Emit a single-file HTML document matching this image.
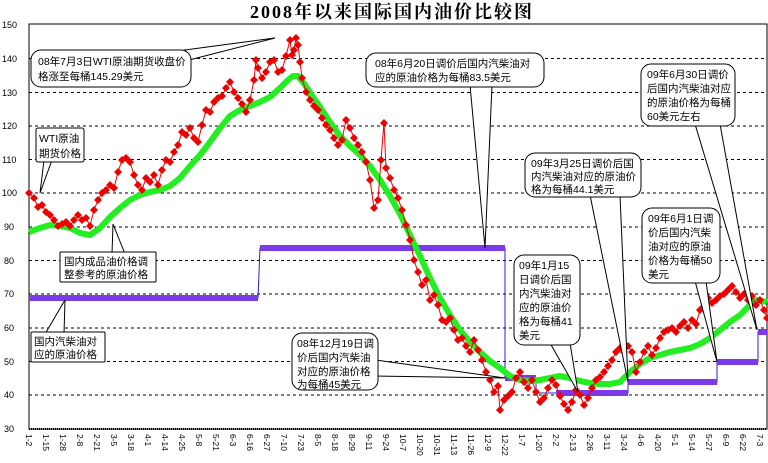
<!DOCTYPE html>
<html><head><meta charset="utf-8"><style>
html,body{margin:0;padding:0;background:#fff;width:768px;height:463px;overflow:hidden}
svg text{font-family:"Liberation Sans","Noto Sans CJK SC",sans-serif}
</style></head><body>
<svg width="768" height="463" viewBox="0 0 768 463" xmlns="http://www.w3.org/2000/svg">
<defs>
<marker id="d" markerWidth="8" markerHeight="8" refX="4" refY="4" markerUnits="userSpaceOnUse"><path d="M4 0L8 4L4 8L0 4Z" fill="#e00"/></marker>
</defs>
<text x="392" y="18" text-anchor="middle" font-size="18" font-weight="bold" letter-spacing="2" style="font-family:'Liberation Serif','Noto Serif CJK SC',serif">2008年以来国际国内油价比较图</text>
<rect x="29" y="24" width="738" height="405" fill="none" stroke="#000" stroke-width="1"/>
<line x1="29" y1="429" x2="767" y2="429" stroke="#000" stroke-width="2" stroke-dasharray="1 1"/>
<g stroke="#000" stroke-dasharray="3 3" stroke-width="1">
<line x1="29" y1="58.5" x2="767" y2="58.5"/><line x1="29" y1="92.5" x2="767" y2="92.5"/>
<line x1="29" y1="126" x2="767" y2="126"/><line x1="29" y1="159.5" x2="767" y2="159.5"/>
<line x1="29" y1="193" x2="767" y2="193"/><line x1="29" y1="227" x2="767" y2="227"/>
<line x1="29" y1="260.5" x2="767" y2="260.5"/><line x1="29" y1="294" x2="767" y2="294"/>
<line x1="29" y1="328" x2="767" y2="328"/><line x1="29" y1="361.5" x2="767" y2="361.5"/>
<line x1="29" y1="395" x2="767" y2="395"/>
</g>
<g font-size="9" fill="#000">
<text x="2" y="28">150</text><text x="2" y="62">140</text><text x="2" y="96">130</text><text x="2" y="129">120</text><text x="2" y="163">110</text><text x="2" y="196">100</text><text x="4" y="230">90</text><text x="4" y="264">80</text><text x="4" y="297">70</text><text x="4" y="331">60</text><text x="4" y="365">50</text><text x="4" y="398">40</text><text x="4" y="432">30</text>
</g>
<g font-size="8.5" fill="#000">
<text transform="translate(26,434) rotate(90)">1-2</text><text transform="translate(43,434) rotate(90)">1-15</text><text transform="translate(60,434) rotate(90)">1-28</text><text transform="translate(77,434) rotate(90)">2-8</text><text transform="translate(94,434) rotate(90)">2-21</text><text transform="translate(111,434) rotate(90)">3-5</text><text transform="translate(128,434) rotate(90)">3-18</text><text transform="translate(145,434) rotate(90)">4-1</text><text transform="translate(162,434) rotate(90)">4-14</text><text transform="translate(179,434) rotate(90)">4-25</text><text transform="translate(196,434) rotate(90)">5-8</text><text transform="translate(213,434) rotate(90)">5-21</text><text transform="translate(230,434) rotate(90)">6-3</text><text transform="translate(247,434) rotate(90)">6-16</text><text transform="translate(264,434) rotate(90)">6-27</text><text transform="translate(281,434) rotate(90)">7-10</text><text transform="translate(298,434) rotate(90)">7-23</text><text transform="translate(315,434) rotate(90)">8-5</text><text transform="translate(332,434) rotate(90)">8-18</text><text transform="translate(349,434) rotate(90)">8-29</text><text transform="translate(366,434) rotate(90)">9-11</text><text transform="translate(383,434) rotate(90)">9-24</text><text transform="translate(400,434) rotate(90)">10-7</text><text transform="translate(417,434) rotate(90)">10-20</text><text transform="translate(434,434) rotate(90)">10-31</text><text transform="translate(451,434) rotate(90)">11-13</text><text transform="translate(468,434) rotate(90)">11-26</text><text transform="translate(485,434) rotate(90)">12-9</text><text transform="translate(502,434) rotate(90)">12-22</text><text transform="translate(519,434) rotate(90)">1-7</text><text transform="translate(536,434) rotate(90)">1-20</text><text transform="translate(553,434) rotate(90)">2-2</text><text transform="translate(570,434) rotate(90)">2-13</text><text transform="translate(587,434) rotate(90)">2-26</text><text transform="translate(604,434) rotate(90)">3-11</text><text transform="translate(621,434) rotate(90)">3-24</text><text transform="translate(638,434) rotate(90)">4-6</text><text transform="translate(655,434) rotate(90)">4-20</text><text transform="translate(672,434) rotate(90)">5-1</text><text transform="translate(689,434) rotate(90)">5-14</text><text transform="translate(706,434) rotate(90)">5-27</text><text transform="translate(723,434) rotate(90)">6-9</text><text transform="translate(740,434) rotate(90)">6-22</text><text transform="translate(757,434) rotate(90)">7-3</text>
</g>
<path d="M29 298H258L260 248H505V378H536V393H628V382H717V362H758V332H767" fill="none" stroke="#2020e0" stroke-width="1"/>
<g stroke="#7a3ae8" stroke-width="6">
<line x1="29" y1="298" x2="258" y2="298"/><line x1="260" y1="248" x2="505" y2="248"/><line x1="505" y1="378" x2="536" y2="378"/><line x1="556" y1="393" x2="628" y2="393"/><line x1="628" y1="382" x2="717" y2="382"/><line x1="717" y1="362" x2="758" y2="362"/><line x1="758" y1="332" x2="767" y2="332"/>
</g>
<polyline fill="none" stroke="#2e2" stroke-width="6" stroke-linejoin="round" points="29,232 40,228 50,225 60,226 70,228 80,233 90,235 100,228 110,217 120,208 130,200 140,195 150,192 160,190 170,186 180,178 190,166 200,155 210,142 220,128 230,116 240,110 250,106 260,102 270,97 280,88 288,80 293,76 298,76 305,85 313,97 320,107 330,122 340,136 350,146 360,155 370,166 380,180 390,196 400,214 410,235 420,256 430,278 440,298 450,315 460,330 470,342 480,352 490,361 500,368 510,376 520,380 530,381 540,380 550,378 560,376 570,378 580,381 590,383 600,384 610,384 620,382 630,372 640,364 650,358 660,355 670,352 680,350 690,348 700,344 710,338 720,330 730,322 740,315 750,305 757,300 767,302"/>
<polyline fill="none" stroke="#e00" stroke-width="1" marker-start="url(#d)" marker-mid="url(#d)" marker-end="url(#d)" points="29,193 34,198 38,207 42,205 46,212 50,215 54,220 58,226 62,224 66,222 70,226 74,220 78,215 82,220 86,218 90,226 94,210 98,200 102,193 106,190 110,185 114,188 118,172 122,160 126,158 130,162 134,175 138,185 142,190 146,178 150,182 154,175 158,185 162,170 166,160 170,162 174,152 178,145 182,132 186,135 190,128 194,138 198,142 202,125 206,110 210,112 214,102 218,98 222,96 226,88 230,82 234,92 238,98 242,104 246,112 250,100 254,80 256,60 258,68 262,78 266,72 270,62 274,60 278,72 282,70 286,56 290,40 292,55 294,50 296,38 298,45 300,62 302,78 306,92 310,100 314,106 318,110 322,118 326,125 330,130 334,138 338,145 342,140 346,120 350,128 354,138 358,145 362,152 366,162 370,180 374,208 378,200 381,160 384,123 386,168 390,178 394,190 398,198 402,210 406,225 410,240 414,260 418,272 422,285 426,280 430,300 434,295 438,305 442,320 446,322 450,318 454,330 458,340 462,338 466,346 470,352 474,340 478,350 482,360 486,372 490,380 494,392 498,386 500,410 504,400 508,396 512,392 516,378 520,372 524,382 528,388 532,380 536,392 540,402 544,398 548,388 552,380 556,385 560,396 564,404 568,410 572,402 576,390 580,395 584,405 588,398 592,388 596,380 600,377 604,372 608,366 612,360 616,352 620,348 624,352 628,346 632,352 636,372 640,362 644,352 648,346 652,355 656,348 660,338 664,332 668,330 672,328 676,332 680,326 684,322 688,328 692,320 696,324 700,310 704,306 708,298 712,303 716,300 720,296 724,294 728,290 732,286 736,292 740,298 744,294 748,300 752,296 756,305 760,300 764,310 767,318"/>
<g fill="#fff" stroke="#000" stroke-width="1">
<path d="M140 56L275 38L150 70Z"/><rect x="31" y="50" width="160" height="37" rx="10"/>
<path d="M44 160L40 193L52 160Z"/><rect x="36" y="128" width="48" height="34" rx="2"/>
<path d="M470 85L485 248L492 85Z"/><rect x="366" y="53" width="178" height="34" rx="10"/>
<path d="M695 124L757 330L720 124Z"/><rect x="641" y="64" width="94" height="62" rx="10"/>
<path d="M590 195L628 382L620 195Z"/><rect x="525" y="153" width="116" height="44" rx="10"/>
<path d="M695 281L717 362L706 281Z"/><rect x="642" y="208" width="78" height="75" rx="10"/>
<path d="M550 343L578 392L570 343Z"/><rect x="514" y="255" width="66" height="90" rx="10"/>
<path d="M376 360L505 378L376 376Z"/><rect x="292" y="333" width="86" height="57" rx="10"/>
<path d="M112 254L113 224L125 254Z"/><rect x="60" y="252" width="96" height="30" rx="1"/>
<path d="M45 334L65 300L64 334Z"/><rect x="31" y="332" width="74" height="30" rx="1"/>
</g>
<g font-size="10.5" fill="#000">
<text x="38" y="65">08年7月3日WTI原油期货收盘价</text><text x="38" y="80">格涨至每桶145.29美元</text>
<text x="39" y="142">WTI原油</text><text x="39" y="157">期货价格</text>
<text x="375" y="67">08年6月20日调价后国内汽柴油对</text><text x="375" y="81">应的原油价格为每桶83.5美元</text>
<text x="647" y="78">09年6月30日调价</text><text x="647" y="92">后国内汽柴油对应</text><text x="647" y="106">的原油价格为每桶</text><text x="647" y="120">60美元左右</text>
<text x="531" y="167">09年3月25日调价后国</text><text x="531" y="180">内汽柴油对应的原油价</text><text x="531" y="193">格为每桶44.1美元</text>
<text x="648" y="222">09年6月1日调</text><text x="648" y="236">价后国内汽柴</text><text x="648" y="250">油对应的原油</text><text x="648" y="264">价格为每桶50</text><text x="648" y="278">美元</text>
<text x="519" y="269">09年1月15</text><text x="519" y="283">日调价后国</text><text x="519" y="297">内汽柴油对</text><text x="519" y="311">应的原油价</text><text x="519" y="325">格为每桶41</text><text x="519" y="339">美元</text>
<text x="297" y="347">08年12月19日调</text><text x="297" y="361">价后国内汽柴油</text><text x="297" y="375">对应的原油价格</text><text x="297" y="388">为每桶45美元</text>
<text x="64" y="265">国内成品油价格调</text><text x="64" y="278">整参考的原油价格</text>
<text x="34" y="345">国内汽柴油对</text><text x="34" y="358">应的原油价格</text>
</g>
</svg>
</body></html>
